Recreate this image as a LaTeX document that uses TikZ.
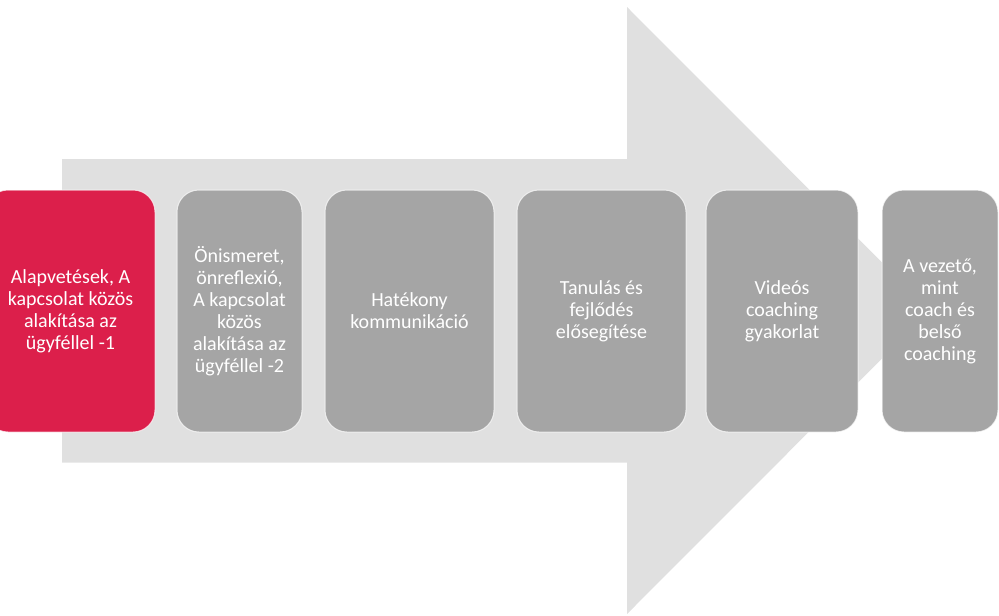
\documentclass[tikz,border=0pt]{standalone}
\usepackage{fontspec}
\setmainfont{Carlito}
\definecolor{arrowgray}{HTML}{E0E0E0}
\definecolor{boxgray}{HTML}{A5A5A5}
\definecolor{boxred}{HTML}{DC1F4B}
\begin{document}
\begin{tikzpicture}[x=1pt,y=-1pt,
  stagebox/.style={rectangle, rounded corners=22pt, draw=white, draw opacity=0.7, line width=1pt,
    minimum height=242pt, inner sep=0pt, align=center, text=white,
    font=\fontsize{20pt}{22pt}\selectfont},
  graybox/.style={stagebox, fill=boxgray},
  redbox/.style={stagebox, fill=boxred}]
\useasboundingbox (0,0) rectangle (999,616);
% big background arrow
\fill[arrowgray] (62,159) -- (627,159) -- (627,7) -- (930,310.5) -- (627,614) -- (627,462.5) -- (62,462.5) -- cycle;
% stages
\node[redbox, minimum width=169pt] (s1) at (70.5,311) {Alapvetések, A\\kapcsolat közös\\alakítása az\\ügyféllel -1};
\node[graybox, minimum width=125pt] (s2) at (239.5,311) {Önismeret,\\önreflexió,\\A kapcsolat\\közös\\alakítása az\\ügyféllel -2};
\node[graybox, minimum width=169pt] (s3) at (409.5,311) {Hatékony\\kommunikáció};
\node[graybox, minimum width=169pt] (s4) at (601.5,311) {Tanulás és\\fejlődés\\elősegítése};
\node[graybox, minimum width=152pt] (s5) at (782,311) {Videós\\coaching\\gyakorlat};
\node[graybox, minimum width=116pt] (s6) at (940,311) {A vezető,\\mint\\coach és\\belső\\coaching};
\end{tikzpicture}
\end{document}
